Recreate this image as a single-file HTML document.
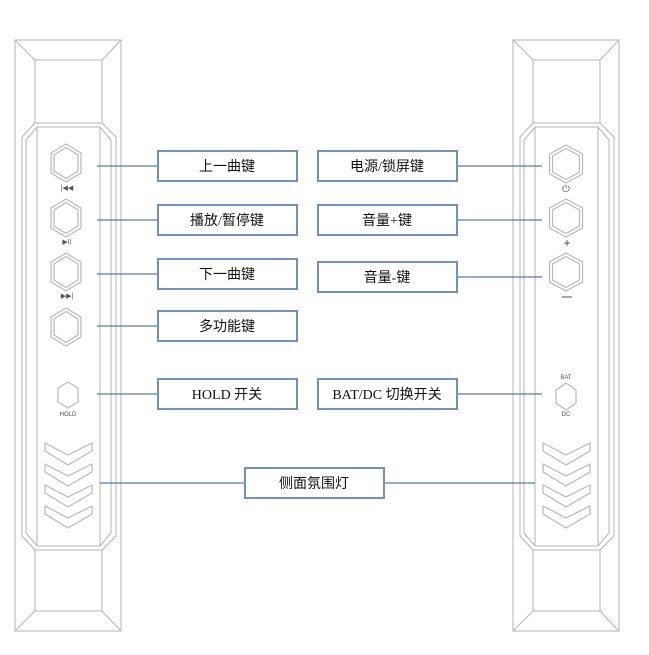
<!DOCTYPE html>
<html><head><meta charset="utf-8"><style>
html,body{margin:0;padding:0;background:#fff;}
svg{display:block;}
.g{fill:none;stroke:#b4b4b4;stroke-width:1;}
.h{fill:none;stroke:#b8b8b8;stroke-width:1.2;stroke-linejoin:round;}
.c{stroke:#5b7aa8;stroke-width:1.2;}
.b{fill:#fff;stroke:#7391bb;stroke-width:2;}
.t{font-family:"Liberation Serif","Noto Sans CJK SC",serif;font-size:14px;fill:#111;text-anchor:middle;}
.s{font-family:"Liberation Sans","DejaVu Sans",sans-serif;font-size:6px;fill:#555;text-anchor:middle;}
</style></head><body>
<svg width="649" height="655" viewBox="0 0 649 655" xmlns="http://www.w3.org/2000/svg">
<defs>
<g id="dev">
<rect class="g" x="15" y="40" width="106" height="591"/>
<rect class="g" x="35" y="60" width="67" height="63"/>
<line class="g" x1="15" y1="40" x2="35" y2="60"/><line class="g" x1="121" y1="40" x2="102" y2="60"/>
<rect class="g" x="35" y="550" width="67" height="61"/>
<line class="g" x1="15" y1="631" x2="35" y2="611"/><line class="g" x1="121" y1="631" x2="102" y2="611"/>
<polyline class="g" points="35,123 22,137 22,536 35,550"/>
<polyline class="g" points="37,127 26,140 26,533 37,546 100,546 111,533 111,140 100,127 37,127"/>
<polyline class="g" points="102,123 116,137 116,536 102,550"/>
<line class="g" x1="37" y1="127" x2="37" y2="546"/><line class="g" x1="100" y1="127" x2="100" y2="546"/>
</g>
<g id="hexL"><polygon class="h" points="0,-19 15,-10 15,10 0,19 -15,10 -15,-10"/><polygon class="h" points="0,-15.5 12,-8 12,8 0,15.5 -12,8 -12,-8"/></g>
<g id="hexR"><polygon class="h" points="0,-19 16.5,-10 16.5,10 0,19 -16.5,10 -16.5,-10"/><polygon class="h" points="0,-15.5 13.5,-8 13.5,8 0,15.5 -13.5,8 -13.5,-8"/></g>
<path id="chev" class="h" d="M45,0 L68,12 L92,0 L92,8 L68,22 L45,8 Z"/>
</defs>
<use href="#dev"/>
<use href="#dev" x="498"/>
<use href="#hexL" x="66" y="163"/><use href="#hexL" x="66" y="218"/><use href="#hexL" x="66" y="272"/><use href="#hexL" x="66" y="327"/>
<text class="s" x="67" y="190" style="font-size:7px">|◀◀</text>
<text class="s" x="67" y="244" style="font-size:7px">▶II</text>
<text class="s" x="67" y="298" style="font-size:7px">▶▶|</text>
<polygon class="h" points="68,382 78,388 78,402 68,408 58,402 58,388"/>
<text class="s" x="68" y="416">HOLD</text>
<use href="#chev" y="443"/><use href="#chev" y="464"/><use href="#chev" y="485"/><use href="#chev" y="506"/>
<use href="#hexR" x="566" y="164"/><use href="#hexR" x="566" y="218"/><use href="#hexR" x="566" y="272"/>
<text class="s" x="566" y="192" style="font-size:10px">⏻</text>
<text class="s" x="567" y="247" style="font-size:12px;fill:#444">+</text>
<line x1="562" y1="297" x2="572" y2="297" stroke="#555" stroke-width="1"/>
<text class="s" x="566" y="379">BAT</text>
<polygon class="h" points="566,383 576,390 576,403 566,410 556,403 556,390"/>
<text class="s" x="566" y="416">DC</text>
<use href="#chev" x="498" y="443"/><use href="#chev" x="498" y="464"/><use href="#chev" x="498" y="485"/><use href="#chev" x="498" y="506"/>
<line class="c" x1="97" y1="166" x2="157" y2="166"/>
<line class="c" x1="97" y1="220" x2="157" y2="220"/>
<line class="c" x1="97" y1="274" x2="157" y2="274"/>
<line class="c" x1="97" y1="326" x2="157" y2="326"/>
<line class="c" x1="97" y1="394" x2="157" y2="394"/>
<line class="c" x1="457" y1="166" x2="542" y2="166"/>
<line class="c" x1="457" y1="220" x2="542" y2="220"/>
<line class="c" x1="457" y1="277" x2="542" y2="277"/>
<line class="c" x1="457" y1="394" x2="542" y2="394"/>
<line class="c" x1="100" y1="483" x2="245" y2="483"/>
<line class="c" x1="384" y1="483" x2="535" y2="483"/>
<rect class="b" x="158" y="151" width="139" height="30"/><text class="t" x="227" y="171">上一曲键</text>
<rect class="b" x="158" y="205" width="139" height="30"/><text class="t" x="227" y="225">播放/暂停键</text>
<rect class="b" x="158" y="259" width="139" height="30"/><text class="t" x="227" y="279">下一曲键</text>
<rect class="b" x="158" y="311" width="139" height="30"/><text class="t" x="227" y="331">多功能键</text>
<rect class="b" x="158" y="379" width="139" height="30"/><text class="t" x="227" y="399">HOLD 开关</text>
<rect class="b" x="318" y="151" width="139" height="30"/><text class="t" x="387" y="171">电源/锁屏键</text>
<rect class="b" x="318" y="205" width="139" height="30"/><text class="t" x="387" y="225">音量+键</text>
<rect class="b" x="318" y="262" width="139" height="30"/><text class="t" x="387" y="282">音量-键</text>
<rect class="b" x="318" y="379" width="139" height="30"/><text class="t" x="387" y="399">BAT/DC 切换开关</text>
<rect class="b" x="245" y="468" width="139" height="30"/><text class="t" x="314" y="488">侧面氛围灯</text>
</svg>
</body></html>
